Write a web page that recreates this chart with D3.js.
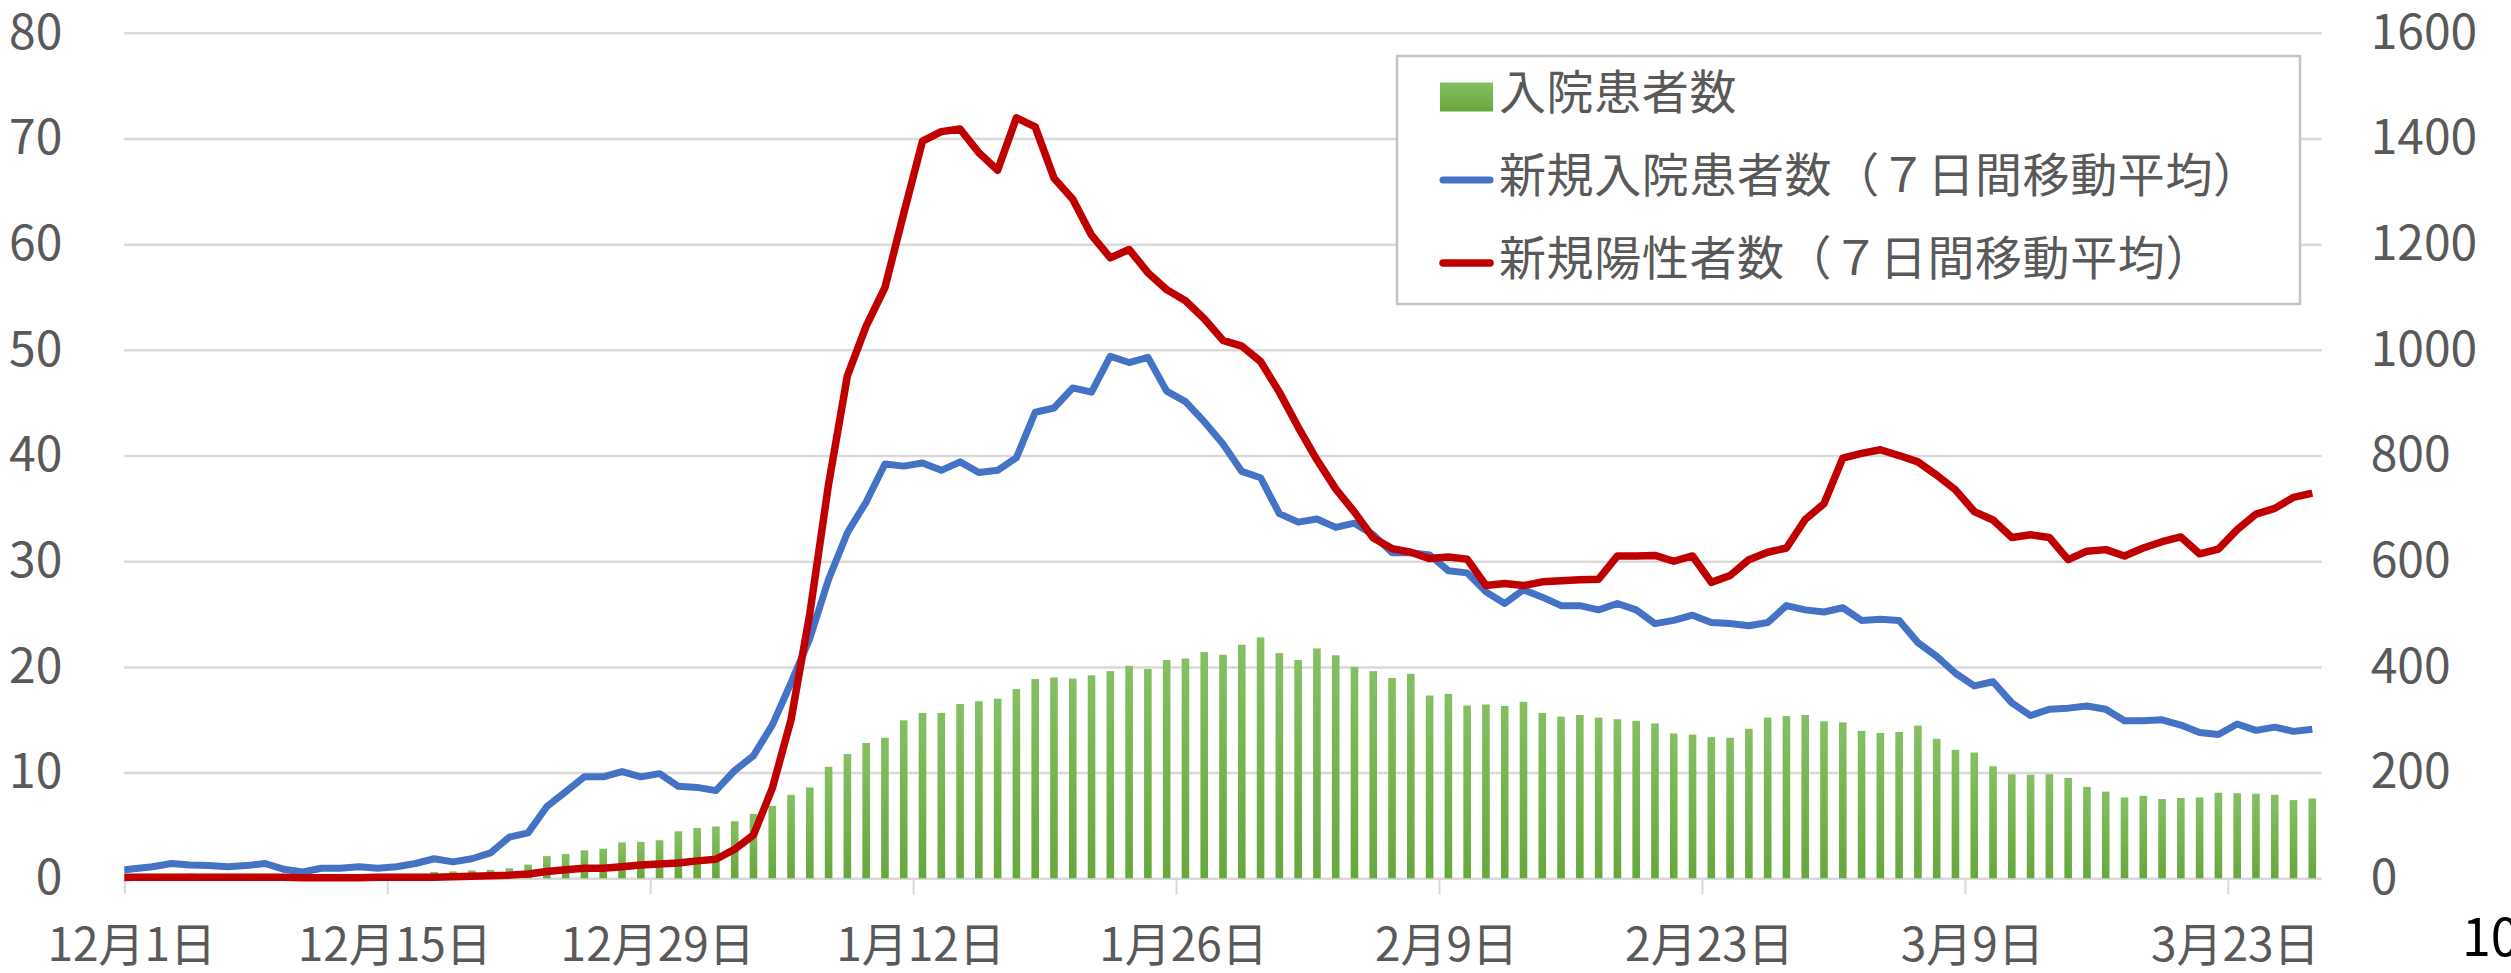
<!DOCTYPE html>
<html lang="ja">
<head>
<meta charset="utf-8">
<title>入院患者数と新規陽性者数</title>
<script src="https://cdn.jsdelivr.net/npm/d3@7"></script>
<style>
  body { margin: 0; background: #fff; }
  text { font-family: "Noto Sans CJK JP", "Noto Sans", sans-serif; }
  .grid line { stroke: #d9d9d9; stroke-width: 2.5; }
  .grid .domain { display: none; }
</style>
</head>
<body>
<svg id="chart" width="2511" height="973"></svg>
<script>
// days 11/30 .. 3/27 (11/30 only feeds the clipped line start)
var days = d3.timeDay.range(new Date(2021, 10, 30), new Date(2022, 2, 28))

// 入院患者数 (right axis)
var inpatients = [5,
  5,7,8,9,8,7,8,7,7,5,
  5,5,7,7,7,8,12,13,15,16,
  19,26,42,46,53,56,68,69,72,89,
  95,98,108,122,137,158,172,211,235,256,
  266,299,313,313,330,335,340,358,377,380,
  378,384,392,402,396,413,416,428,423,442,
  456,426,413,435,422,400,392,379,387,346,
  349,327,329,326,334,313,306,309,304,301,
  298,293,274,272,267,266,283,304,307,309,
  297,295,279,275,277,289,264,243,238,212,
  197,196,197,190,173,164,153,156,150,152,
  153,162,161,160,158,148,151]

// 新規入院患者数 7日間移動平均 (left axis)
var newAdmits = [0.7,
  0.9,1.1,1.4,1.25,1.2,1.1,1.2,1.4,0.85,0.6,
  0.95,0.95,1.1,0.95,1.1,1.4,1.85,1.55,1.85,2.4,
  3.9,4.3,6.8,8.2,9.6,9.6,10.1,9.6,9.9,8.7,
  8.6,8.3,10.2,11.6,14.5,18.5,22.7,28.3,32.7,35.6,
  39.2,39.0,39.3,38.6,39.4,38.4,38.6,39.8,44.1,44.5,
  46.4,46.0,49.4,48.8,49.3,46.1,45.1,43.2,41.1,38.5,
  37.9,34.5,33.7,34.0,33.2,33.6,32.5,30.8,30.8,30.6,
  29.1,28.9,27.1,26.0,27.3,26.6,25.8,25.8,25.4,26.0,
  25.4,24.1,24.4,24.9,24.2,24.1,23.9,24.2,25.8,25.4,
  25.2,25.6,24.4,24.5,24.4,22.3,21.0,19.4,18.2,18.6,
  16.6,15.4,16.0,16.1,16.3,16.0,14.9,14.9,15.0,14.5,
  13.8,13.6,14.6,14.0,14.3,13.9,14.1]

// 新規陽性者数 7日間移動平均 (right axis)
var newPositives = [1,
  2,2,2,2,2,2,2,2,2,1,
  1,1,1,2,2,2,2,3,4,5,
  6,8,13,16,19,19,22,25,27,29,
  33,36,55,82,170,300,501,746,951,1045,
  1118,1258,1395,1413,1418,1373,1340,1439,1422,1325,
  1285,1217,1174,1190,1146,1114,1093,1059,1018,1007,
  978,920,854,792,737,693,644,624,617,605,
  608,604,554,558,554,561,563,565,566,610,
  610,611,600,610,560,573,603,617,625,679,
  709,795,804,811,800,788,763,735,694,678,
  645,650,645,603,619,622,610,625,637,646,
  614,623,660,689,700,721,729]

var tickDates = ['2021-12-01','2021-12-15','2021-12-29','2022-01-12','2022-01-26',
                 '2022-02-09','2022-02-23','2022-03-09','2022-03-23']
var leftTicks = [0,10,20,30,40,50,60,70,80]
var rightTicks = [0,200,400,600,800,1000,1200,1400,1600]
var legendNames = ['入院患者数', '新規入院患者数（７日間移動平均）', '新規陽性者数（７日間移動平均）']

var parseDay = d3.timeParse('%Y-%m-%d')
var fmt = d3.timeFormat('%-m月%-d日')

// plot box (note: "top" is taken by window.top)
var pLeft = 124.3, pRight = 2321.7, pTop = 32.8, pBottom = 878.3
var svg = d3.select('#chart')

var x = d3.scaleTime()
    .domain([new Date(2021, 11, 1), new Date(2022, 2, 28)])
    .range([pLeft, pRight])
var yL = d3.scaleLinear().domain([0, 80]).range([pBottom, pTop])
var yR = d3.scaleLinear().domain([0, 1600]).range([pBottom, pTop])
var mid = function (d) { return x(d3.timeHour.offset(d, 12)) }

var defs = svg.append('defs')
defs.append('clipPath').attr('id', 'plotclip')
    .append('rect')
    .attr('x', pLeft).attr('y', 0)
    .attr('width', pRight - pLeft).attr('height', pBottom + 10)

var grad = defs.append('linearGradient').attr('id', 'bargrad')
    .attr('x1', 0).attr('y1', 0).attr('x2', 0).attr('y2', 1)
grad.append('stop').attr('offset', '0%').attr('stop-color', '#86bf63')
grad.append('stop').attr('offset', '100%').attr('stop-color', '#68a73c')

// gridlines
svg.append('g')
    .attr('class', 'grid')
    .attr('transform', 'translate(' + pLeft + ',0)')
    .call(d3.axisLeft(yL).tickValues(leftTicks).tickSize(-(pRight - pLeft)).tickFormat(''))

// bottom ticks and date labels
var gx = svg.append('g')
    .attr('transform', 'translate(0,' + pBottom + ')')
    .call(d3.axisBottom(x).tickValues(tickDates.map(parseDay)).tickSize(16).tickFormat(fmt))
gx.select('.domain').remove()
gx.selectAll('line').attr('stroke', '#d9d9d9').attr('stroke-width', 2)
gx.selectAll('text')
    .attr('y', 67).attr('dy', '0.35em').attr('dx', 7)
    .attr('font-size', 46)
    .attr('font-family', '"Noto Sans CJK JP", sans-serif')
    .attr('fill', '#595959')

// left axis
var gl = svg.append('g')
    .attr('transform', 'translate(' + pLeft + ',0)')
    .call(d3.axisLeft(yL).tickValues(leftTicks).tickSize(0).tickPadding(62))
gl.select('.domain').remove()
gl.selectAll('text')
    .attr('font-size', 48)
    .attr('font-family', '"Noto Sans CJK JP", sans-serif')
    .attr('fill', '#595959')

// right axis
var gr = svg.append('g')
    .attr('transform', 'translate(' + pRight + ',0)')
    .call(d3.axisRight(yR).tickValues(rightTicks).tickSize(0).tickPadding(49).tickFormat(d3.format('d')))
gr.select('.domain').remove()
gr.selectAll('text')
    .attr('font-size', 48)
    .attr('font-family', '"Noto Sans CJK JP", sans-serif')
    .attr('fill', '#595959')

var plot = svg.append('g').attr('clip-path', 'url(#plotclip)')

// bars
var bw = 7.6
plot.selectAll('rect.bar')
    .data(days)
    .enter().append('rect')
    .attr('class', 'bar')
    .attr('x', function (d) { return mid(d) - bw / 2 })
    .attr('y', function (d, i) { return yR(inpatients[i]) })
    .attr('width', bw)
    .attr('height', function (d, i) { return pBottom - yR(inpatients[i]) })
    .attr('fill', 'url(#bargrad)')

var lineL = d3.line()
    .x(function (d) { return mid(d) })
    .y(function (d, i) { return yL(newAdmits[i]) })
var lineR = d3.line()
    .x(function (d) { return mid(d) })
    .y(function (d, i) { return yR(newPositives[i]) })

plot.append('path')
    .datum(days)
    .attr('d', lineL)
    .attr('fill', 'none')
    .attr('stroke', '#4472c4')
    .attr('stroke-width', 7)
    .attr('stroke-linejoin', 'round')

plot.append('path')
    .datum(days)
    .attr('d', lineR)
    .attr('fill', 'none')
    .attr('stroke', '#c00000')
    .attr('stroke-width', 7.5)
    .attr('stroke-linejoin', 'round')

// legend
var lg = svg.append('g')
lg.append('rect')
    .attr('x', 1397).attr('y', 56)
    .attr('width', 903).attr('height', 248)
    .attr('fill', '#fff')
    .attr('stroke', '#c4c4c4')
    .attr('stroke-width', 2.5)

var rowY = [97, 180, 263]
lg.append('rect')
    .attr('x', 1440).attr('y', rowY[0] - 14.5)
    .attr('width', 53).attr('height', 29)
    .attr('fill', 'url(#bargrad)')
lg.append('line')
    .attr('x1', 1443).attr('x2', 1490)
    .attr('y1', rowY[1]).attr('y2', rowY[1])
    .attr('stroke', '#4472c4').attr('stroke-width', 7).attr('stroke-linecap', 'round')
lg.append('line')
    .attr('x1', 1443).attr('x2', 1490)
    .attr('y1', rowY[2]).attr('y2', rowY[2])
    .attr('stroke', '#c00000').attr('stroke-width', 7.5).attr('stroke-linecap', 'round')

lg.selectAll('text.leg')
    .data(legendNames)
    .enter().append('text')
    .attr('class', 'leg')
    .attr('x', 1499)
    .attr('y', function (d, i) { return rowY[i] - 4 })
    .attr('dy', '0.35em')
    .attr('font-size', 47)
    .attr('letter-spacing', 0.6)
    .attr('fill', '#595959')
    .text(function (d) { return d })

// page number fragment at the bottom right
svg.append('text')
    .attr('x', 2462)
    .attr('y', 938)
    .attr('dy', '0.35em')
    .attr('font-size', 52)
    .attr('font-family', '"Liberation Sans", Arial, sans-serif')
    .attr('fill', '#000')
    .text('10')
</script>
</body>
</html>
